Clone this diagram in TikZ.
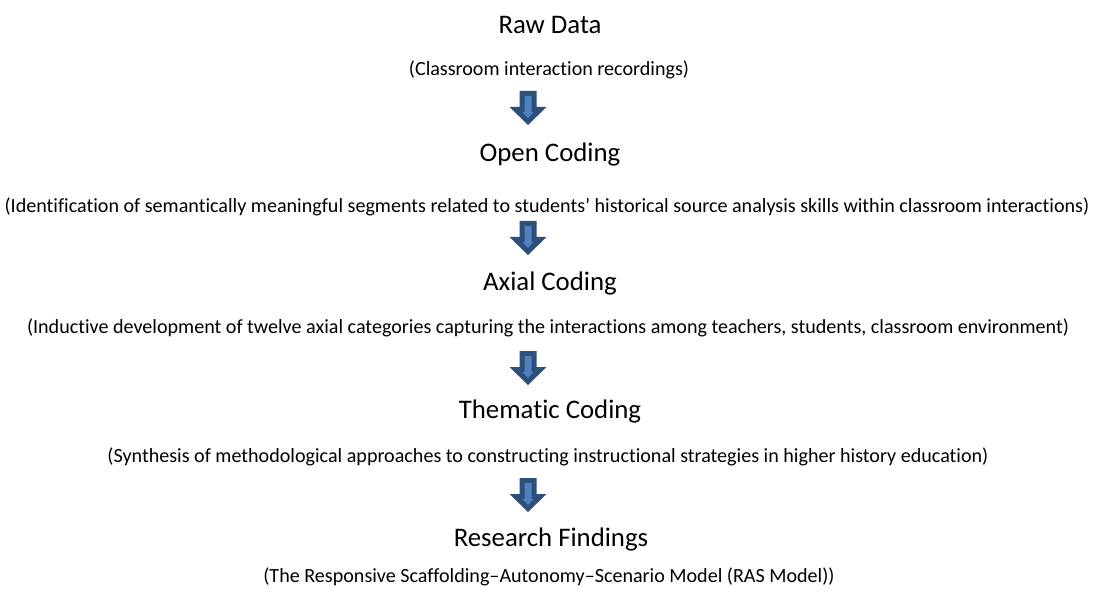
\documentclass[tikz,border=0pt]{standalone}
\usepackage{fontspec}
\setmainfont{Carlito}[Ligatures=NoCommon]
\definecolor{arrdark}{HTML}{2C4F7C}
\definecolor{arrlight}{HTML}{4F81BD}
\begin{document}
\begin{tikzpicture}[x=1bp,y=-1bp,
  titletext/.style={anchor=base,inner sep=0pt,font=\fontsize{26.8bp}{31bp}\selectfont},
  subtext/.style={anchor=base,inner sep=0pt,font=\fontsize{20.1bp}{24bp}\selectfont},
  blockarrow/.pic={
    \fill[arrdark] (-8.5,0) -- (8.5,0) -- (8.5,16) -- (18.5,16) -- (0,34) -- (-18.5,16) -- (-8.5,16) -- cycle;
    \fill[arrlight] (-3.5,5) -- (3.5,5) -- (3.5,21) -- (5.5,21) -- (0,27) -- (-5.5,21) -- (-3.5,21) -- cycle;
  }]
\useasboundingbox (0,0) rectangle (1097,592);
\fill[white] (0,0) rectangle (1097,592);
\node[titletext] (t1) at (550,34) {Raw Data};
\node[subtext] (s1) at (549,76) {(Classroom interaction recordings)};
\pic at (528,91) {blockarrow};
\node[titletext] (t2) at (550,162) {Open Coding};
\node[subtext] (s2) at (547,213) {(Identification of semantically meaningful segments related to students’ historical source analysis skills within classroom interactions)};
\pic at (528,221) {blockarrow};
\node[titletext] (t3) at (550,291) {Axial Coding};
\node[subtext] (s3) at (548,333) {(Inductive development of twelve axial categories capturing the interactions among teachers, students, classroom environment)};
\pic at (528,351) {blockarrow};
\node[titletext] (t4) at (550,418) {Thematic Coding};
\node[subtext] (s4) at (548,462) {(Synthesis of methodological approaches to constructing instructional strategies in higher history education)};
\pic at (528,478) {blockarrow};
\node[titletext] (t5) at (551,546) {Research Findings};
\node[subtext] (s5) at (549,582) {(The Responsive Scaffolding–Autonomy–Scenario Model (RAS Model))};
\end{tikzpicture}
\end{document}
